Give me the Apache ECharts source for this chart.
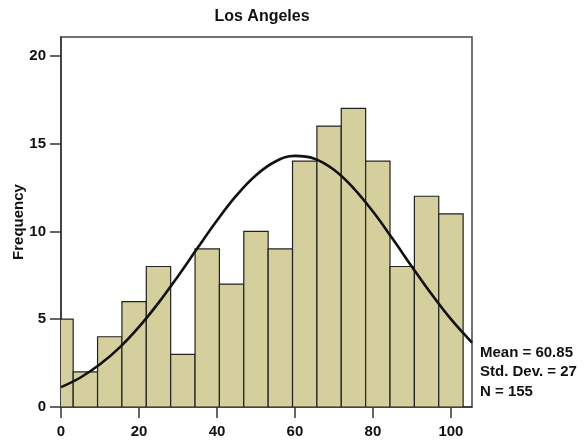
<!DOCTYPE html>
<html>
<head>
<meta charset="utf-8">
<script src="https://cdn.jsdelivr.net/npm/echarts@6/dist/echarts.min.js"></script>
<style>
  html, body { margin: 0; padding: 0; background: #fff; }
  #chart { width: 588px; height: 444px; }
</style>
</head>
<body>
<div id="chart"></div>
<script>
// Histogram of Los Angeles scores with a fitted normal curve
const chartTitle = 'Los Angeles';
const binWidth = 6.25;
const binCenters = [0, 6.25, 12.5, 18.75, 25, 31.25, 37.5, 43.75, 50, 56.25, 62.5, 68.75, 75, 81.25, 87.5, 93.75, 100];
const frequencies = [5, 2, 4, 6, 8, 3, 9, 7, 10, 9, 14, 16, 17, 14, 8, 12, 11];

// Normal curve overlay, sampled along the x axis
const curveX = [0, 5, 10, 15, 20, 25, 30, 35, 40, 45, 50, 55, 60, 65, 70, 75, 80, 85, 90, 95, 100, 105.4];
const curveY = [1.13, 1.68, 2.43, 3.38, 4.56, 5.93, 7.45, 9.05, 10.62, 12.05, 13.2, 13.98, 14.3, 14.14, 13.51, 12.47, 11.13, 9.59, 7.99, 6.43, 5.0, 3.67];

const statMean = '60.85';
const statSd = '27';
const statN = '155';

const xTicks = [0, 20, 40, 60, 80, 100];
const yTicks = [0, 5, 10, 15, 20];

const FONT = 'Liberation Sans';
const barData = binCenters.map((c, i) => [c, frequencies[i]]);
const curveData = curveX.map((x, i) => [x, curveY[i]]);

const chart = echarts.init(document.getElementById('chart'), null, { renderer: 'canvas' });

chart.setOption({
  animation: false,
  backgroundColor: '#ffffff',
  title: {
    text: chartTitle,
    left: 262,
    top: 9,
    padding: 0,
    textAlign: 'center',
    textStyle: { fontFamily: FONT, fontSize: 16, fontWeight: 'bold', color: '#111' }
  },
  grid: {
    left: 61, top: 37, width: 411, height: 370,
    outerBoundsMode: 'none',
    containLabel: false,
    show: true, borderColor: '#444', borderWidth: 1.5, backgroundColor: 'transparent'
  },
  xAxis: {
    type: 'value',
    min: 0,
    max: 105.4,
    interval: 20,
    splitLine: { show: false },
    axisLine: { show: true, lineStyle: { color: '#333', width: 1.5 } },
    axisTick: { show: true, length: 11, inside: false, lineStyle: { color: '#333', width: 1.5 },
      customValues: xTicks },
    axisLabel: { show: true, margin: 17, fontFamily: FONT, fontSize: 15, fontWeight: 'bold', color: '#111',
      customValues: xTicks }
  },
  yAxis: {
    type: 'value',
    min: 0,
    max: 21.07,
    interval: 5,
    name: 'Frequency',
    nameLocation: 'middle',
    nameRotate: 90,
    nameGap: 35,
    nameMoveOverlap: false,
    nameTextStyle: { fontFamily: FONT, fontSize: 15, fontWeight: 'bold', color: '#111' },
    splitLine: { show: false },
    axisLine: { show: true, lineStyle: { color: '#333', width: 1.5 } },
    axisTick: { show: true, length: 11, lineStyle: { color: '#333', width: 1.5 },
      customValues: yTicks },
    axisLabel: { show: true, margin: 15, fontFamily: FONT, fontSize: 15, fontWeight: 'bold', color: '#111',
      customValues: yTicks }
  },
  series: [
    {
      type: 'custom',
      clip: true,
      data: barData,
      encode: { x: 0, y: 1 },
      renderItem: function (params, api) {
        const c = api.value(0);
        const v = api.value(1);
        const topLeft = api.coord([c - binWidth / 2, v]);
        const bottomRight = api.coord([c + binWidth / 2, 0]);
        return {
          type: 'rect',
          shape: {
            x: topLeft[0],
            y: topLeft[1],
            width: bottomRight[0] - topLeft[0],
            height: bottomRight[1] - topLeft[1]
          },
          style: { fill: '#d4cf9c', stroke: '#222', lineWidth: 1.2 }
        };
      },
      z: 2
    },
    {
      type: 'line',
      data: curveData,
      smooth: 0.4,
      showSymbol: false,
      lineStyle: { color: '#111', width: 2.6 },
      z: 3
    }
  ],
  graphic: [
    {
      type: 'text',
      left: 480,
      top: 343,
      style: {
        text: 'Mean = ' + statMean + '\nStd. Dev. = ' + statSd + '\nN = ' + statN,
        fontFamily: FONT,
        fontSize: 15,
        fontWeight: 'bold',
        lineHeight: 19.5,
        fill: '#111'
      }
    }
  ]
});
</script>
</body>
</html>
